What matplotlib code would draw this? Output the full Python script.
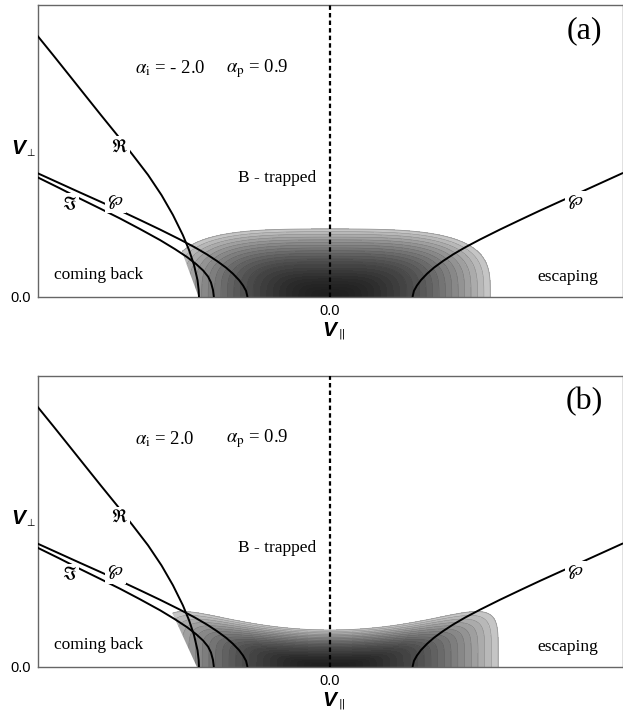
import numpy as np
import matplotlib
matplotlib.use("Agg")
import matplotlib.pyplot as plt

plt.rcParams['font.family'] = ['Liberation Serif', 'DejaVu Serif']
plt.rcParams['mathtext.fontset'] = 'stix'

# boundary curves (same in both panels)
r_x = [-1.002, -0.947, -0.892, -0.838, -0.783, -0.728, -0.674, -0.622, -0.576, -0.537,
       -0.503, -0.482, -0.465, -0.453, -0.449, -0.448]
r_y = [0.897, 0.829, 0.760, 0.692, 0.623, 0.555, 0.486, 0.418, 0.349, 0.281,
       0.212, 0.161, 0.110, 0.058, 0.024, 0.0]

wp_x = [-1.002, -0.923, -0.855, -0.786, -0.718, -0.650, -0.581, -0.513, -0.462, -0.421,
        -0.386, -0.356, -0.332, -0.311, -0.297, -0.287, -0.282]
wp_y = [0.425, 0.389, 0.358, 0.327, 0.296, 0.264, 0.231, 0.197, 0.170, 0.146,
        0.123, 0.101, 0.080, 0.058, 0.039, 0.021, 0.0]

im_x = [-1.002, -0.923, -0.855, -0.786, -0.718, -0.650, -0.581, -0.530, -0.489, -0.458,
        -0.434, -0.417, -0.407, -0.400, -0.397]
im_y = [0.411, 0.372, 0.337, 0.303, 0.269, 0.233, 0.195, 0.164, 0.137, 0.113,
        0.091, 0.070, 0.050, 0.024, 0.0]

# shaded distribution: half width, top height, top curvature, squareness
dist_a = dict(a=0.548, b0=0.233, b2=-0.02, p=3.6)
dist_b = dict(a=0.575, b0=0.127, b2=0.33, p=6)

# white cut on the left of the distribution
cut_a_x = [-1.0, -0.449, -0.521, -0.56, -1.0]
cut_a_y = [0.0, 0.0, 0.195, 0.35, 0.35]
cut_b_x = [-1.0, -0.455, -0.541, -0.58, -1.0]
cut_b_y = [0.0, 0.0, 0.189, 0.30, 0.30]

alpha_i = ['- 2.0', '2.0']
alpha_p = '0.9'
tags = ['(a)', '(b)']

W, H = 623, 717
fig = plt.figure(figsize=(W / 100, H / 100), dpi=100)


def fpx(x, y):
    return x / W, 1 - y / H


def panel(ax, dist, cut_x, cut_y, ai, tag):
    xx = np.linspace(-1, 1, 1000)
    yy = np.linspace(0, 0.45, 450)
    X, Y = np.meshgrid(xx, yy)
    bx = dist['b0'] + dist['b2'] * X ** 2
    p = dist['p']
    R = (np.abs(X / dist['a']) ** p + (Y / bx) ** p) ** (1.0 / p)
    levels = np.concatenate([np.linspace(0, 0.44, 12), np.arange(0.48, 1.001, 0.04)])
    mids = 0.5 * (levels[:-1] + levels[1:])
    cols = [str(0.12 + 0.68 * m ** 2.0) for m in mids]
    ax.contourf(X, Y, R, levels=levels, colors=cols, zorder=1)
    ax.contour(X, Y, R, levels=levels[12:-1], colors='0.2', linewidths=0.35, alpha=0.45, zorder=1.1)
    ax.contour(X, Y, R, levels=[1.0], colors='0.6', linewidths=0.6, zorder=1.1)
    ax.fill(cut_x, cut_y, color='white', zorder=1.5, lw=0)

    ax.axvline(0, color='black', ls=(0, (2, 1.4)), lw=1.6, zorder=4)

    lk = dict(color='black', lw=1.4, zorder=3, solid_capstyle='butt', solid_joinstyle='round')
    ax.plot(r_x, r_y, **lk)
    ax.plot(wp_x, wp_y, **lk)
    ax.plot(im_x, im_y, **lk)
    ax.plot([-v for v in wp_x], wp_y, **lk)

    bb = dict(facecolor='white', edgecolor='none', pad=1.5)
    ax.text(-0.719, 0.514, r'$\Re$', fontsize=13, ha='center', va='center', bbox=bb, zorder=5)
    ax.text(-0.733, 0.325, r'$\wp$', fontsize=13, ha='center', va='center', bbox=bb, zorder=5)
    ax.text(-0.890, 0.318, r'$\Im$', fontsize=13, ha='center', va='center', bbox=bb, zorder=5)
    ax.text(0.839, 0.325, r'$\wp$', fontsize=13, ha='center', va='center', bbox=bb, zorder=5)

    ax.text(-0.791, 0.075, 'coming back', fontsize=12.5, ha='center', va='center')
    ax.text(0.812, 0.068, 'escaping', fontsize=12.5, ha='center', va='center')
    ax.text(-0.182, 0.408, 'B - trapped', fontsize=12.5, ha='center', va='center')
    ax.text(-0.668, 0.784, r'$\alpha_{\rm i}$ = ' + ai, fontsize=13.5, ha='left', va='center')
    ax.text(-0.356, 0.784, r'$\alpha_{\rm p}$ = ' + alpha_p, fontsize=13.5, ha='left', va='center')
    ax.text(0.870, 0.912, tag, fontsize=23, ha='center', va='center')

    ax.set_xlim(-1, 1)
    ax.set_ylim(0, 1)
    ax.set_xticks([0], ['0.0'])
    ax.set_yticks([0], ['0.0'])
    ax.tick_params(length=0, labelsize=10.5, pad=5)
    for lab in ax.get_xticklabels() + ax.get_yticklabels():
        lab.set_family(['Liberation Sans', 'DejaVu Sans'])
    for s in ax.spines.values():
        s.set_color('0.4')
        s.set_linewidth(1.0)


axA = fig.add_axes([37.5 / W, 1 - 297 / H, 585 / W, 292 / H])
axB = fig.add_axes([37.5 / W, 1 - 667 / H, 585 / W, 291 / H])
panel(axA, dist_a, cut_a_x, cut_a_y, alpha_i[0], tags[0])
panel(axB, dist_b, cut_b_x, cut_b_y, alpha_i[1], tags[1])

vk = dict(fontsize=15, fontweight='bold', fontstyle='italic', family=['Liberation Sans', 'DejaVu Sans'],
          ha='center', va='center')
for dy in (0, 370):
    fig.text(*fpx(18, 148 + dy), 'V', **vk)
    fig.text(*fpx(30, 153 + dy), '\u22a5', fontsize=7, family=['DejaVu Sans'], ha='center', va='center')
    fig.text(*fpx(329, 331 + dy), 'V', **vk)
    fig.text(*fpx(342, 334 + dy), '||', fontsize=7.5, family=['DejaVu Sans'], ha='center', va='center')

fig.savefig('out.png', dpi=100)
